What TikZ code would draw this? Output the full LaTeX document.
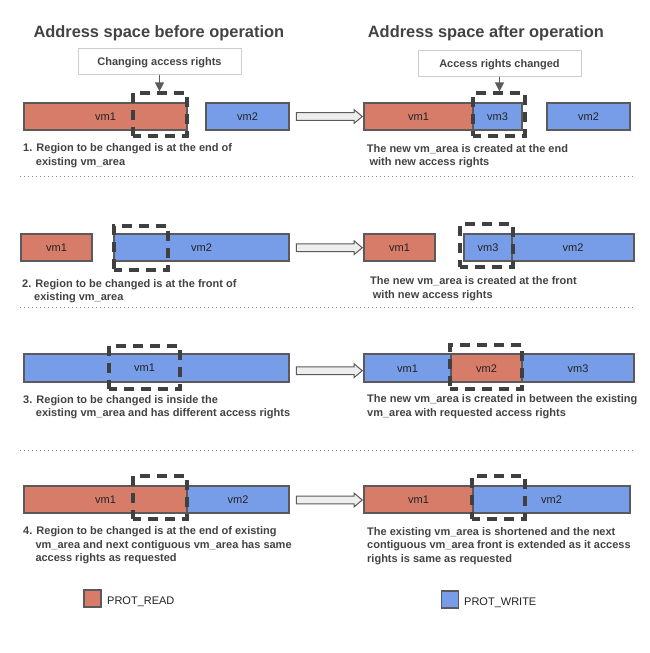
\documentclass[tikz,border=0pt]{standalone}
\usepackage{fontspec}
\setmainfont{Liberation Sans}
\usetikzlibrary{arrows.meta,shapes.arrows}
\definecolor{vmred}{HTML}{D87C6A}
\definecolor{vmblue}{HTML}{789DE8}
\definecolor{bord}{HTML}{5A5A5A}
\definecolor{dashc}{HTML}{404040}
\definecolor{captxt}{HTML}{434343}
\definecolor{labtxt}{HTML}{222222}
\definecolor{boxbord}{HTML}{CCCCCC}
\definecolor{hollowc}{HTML}{EEEEEE}
\definecolor{dotc}{HTML}{8A8A8A}
\begin{document}
\begin{tikzpicture}[x=1pt,y=-1pt,
 vm/.style={draw=bord, line width=1.6pt, inner sep=0pt, outer sep=0pt, text height=8pt, text depth=0pt, font=\fontsize{11}{13}\selectfont, text=labtxt},
 redbox/.style={vm, fill=vmred},
 bluebox/.style={vm, fill=vmblue},
 selbox/.style={draw=dashc, line width=3.2pt, dash pattern=on 10pt off 7pt, dash phase=2pt, inner sep=0pt, text height=8pt, text depth=0pt, font=\fontsize{11}{13}\selectfont, text=labtxt},
 notebox/.style={draw=boxbord, line width=1pt, fill=white, inner sep=0pt, minimum width=163pt, minimum height=26pt, text height=8pt, text depth=0pt, font=\fontsize{11}{13}\selectfont\bfseries, text=captxt},
 conn/.style={draw=bord, line width=1.3pt, -{Triangle[length=9pt,width=9pt]}},
 capt/.style={anchor=base west, inner sep=0pt, font=\fontsize{11}{13}\selectfont\bfseries, text=captxt},
 ttl/.style={anchor=base west, inner sep=0pt, font=\fontsize{16.4}{20}\selectfont\bfseries, text=captxt},
 hollowarrow/.style={single arrow, draw=bord, line width=1pt, fill=hollowc, inner sep=3.3pt, minimum height=66pt, single arrow head extend=3pt, single arrow tip angle=80, shape border rotate=0},
 sepline/.style={draw=dotc, line width=1pt, dash pattern=on 1pt off 3pt},
 legsq/.style={draw=bord, line width=1.6pt, minimum size=17pt, inner sep=0pt},
 legtxt/.style={anchor=base west, inner sep=0pt, font=\fontsize{11}{13}\selectfont, text=labtxt}
]
\fill[white] (0,0) rectangle (649,653);
\useasboundingbox (0,0) rectangle (649,653);

% titles
\node[ttl] (t1) at (33.3,37.7) {Address space before operation};
\node[ttl] (t2) at (367.7,37.7) {Address space after operation};

% ---------------- Row 1
\node[notebox] (cb1) at (159.5,61) {Changing access rights};
\node[redbox, minimum width=163pt, minimum height=27pt] (r1a) at (105.5,116.5) {vm1};
\node[bluebox, minimum width=83pt, minimum height=27pt] (r1b) at (247.5,116.5) {vm2};
\node[selbox, minimum width=54pt, minimum height=43pt] (r1s) at (160,114.5) {};
\draw[conn] (cb1.south) -- (cb1.south |- r1s.north);

\node[hollowarrow] (h1) at (327,116.5) {};

\node[notebox] (cb2) at (499.5,63) {Access rights changed};
\node[redbox, minimum width=109pt, minimum height=27pt] (q1a) at (418.5,116.5) {vm1};
\node[bluebox, minimum width=49pt, minimum height=27pt] (q1c) at (497.5,116.5) {vm3};
\node[bluebox, minimum width=83pt, minimum height=27pt] (q1b) at (588.5,116.5) {vm2};
\node[selbox, minimum width=52pt, minimum height=43pt] (q1s) at (499,114.5) {};
\draw[conn] (cb2.south) -- (cb2.south |- q1s.north);

\node[capt] (c1a) at (23,151.5) {1. Region to be changed is at the end of};
\node[capt] (c1b) at (35.7,165) {existing vm\_area};
\node[capt] (d1a) at (366.7,152) {The new vm\_area is created at the end};
\node[capt] (d1b) at (369.3,165.5) {with new access rights};

\draw[sepline] (20,176.5) -- (635,176.5);

% ---------------- Row 2
\node[redbox, minimum width=71pt, minimum height=27pt] (r2a) at (56.5,247.5) {vm1};
\node[bluebox, minimum width=175pt, minimum height=27pt] (r2b) at (201.5,247.5) {vm2};
\node[selbox, minimum width=54pt, minimum height=44pt] (r2s) at (141,248) {};

\node[hollowarrow] (h2) at (327,247.7) {};

\node[redbox, minimum width=71pt, minimum height=27pt] (q2a) at (399.5,247.5) {vm1};
\node[bluebox, minimum width=48pt, minimum height=27pt] (q2c) at (488,247.5) {vm3};
\node[bluebox, minimum width=122pt, minimum height=27pt] (q2b) at (573,247.5) {vm2};
\node[selbox, minimum width=53pt, minimum height=43pt] (q2s) at (486.5,245.5) {};

\node[capt] (c2a) at (22,287) {2. Region to be changed is at the front of};
\node[capt] (c2b) at (34,300.5) {existing vm\_area};
\node[capt] (d2a) at (370,284.5) {The new vm\_area is created at the front};
\node[capt] (d2b) at (372.7,298) {with new access rights};

\draw[sepline] (20,307.5) -- (635,307.5);

% ---------------- Row 3
\node[bluebox, minimum width=265pt, minimum height=28pt] (r3a) at (156.5,368) {};
\node[selbox, minimum width=71pt, minimum height=43pt] (r3s) at (144.5,367.5) {vm1};

\node[hollowarrow] (h3) at (327,370.7) {};

\node[bluebox, minimum width=87pt, minimum height=28pt] (q3a) at (407.5,368) {vm1};
\node[redbox, minimum width=71pt, minimum height=28pt] (q3b) at (486.5,368) {vm2};
\node[bluebox, minimum width=112pt, minimum height=28pt] (q3c) at (578,368) {vm3};
\node[selbox, minimum width=72pt, minimum height=44pt] (q3s) at (486,367) {};

\node[capt] (c3a) at (23,403) {3. Region to be changed is inside the};
\node[capt] (c3b) at (35.7,416.5) {existing vm\_area and has different access rights};
\node[capt] (d3a) at (367,402.5) {The new vm\_area is created in between the existing};
\node[capt] (d3b) at (367,416) {vm\_area with requested access rights};

\draw[sepline] (20,450) -- (635,450);

% ---------------- Row 4
\node[redbox, minimum width=163pt, minimum height=27pt] (r4a) at (105.5,499.5) {vm1};
\node[bluebox, minimum width=102pt, minimum height=27pt] (r4b) at (238,499.5) {vm2};
\node[selbox, minimum width=54pt, minimum height=43pt] (r4s) at (160,497.5) {};

\node[hollowarrow] (h4) at (327,500) {};

\node[redbox, minimum width=109pt, minimum height=27pt] (q4a) at (418.5,499.5) {vm1};
\node[bluebox, minimum width=157pt, minimum height=27pt] (q4b) at (551.5,499.5) {vm2};
\node[selbox, minimum width=53pt, minimum height=43pt] (q4s) at (498.5,497.5) {};

\node[capt] (c4a) at (23,534.5) {4. Region to be changed is at the end of existing};
\node[capt] (c4b) at (35.3,548) {vm\_area and next contiguous vm\_area has same};
\node[capt] (c4c) at (35.3,561.5) {access rights as requested};
\node[capt] (d4a) at (367,535) {The existing vm\_area is shortened and the next};
\node[capt] (d4b) at (367,548.5) {contiguous vm\_area front is extended as it access};
\node[capt] (d4c) at (367,562) {rights is same as requested};

% ---------------- Legend
\node[legsq, fill=vmred] (lr) at (92.5,598.5) {};
\node[legtxt] (lrt) at (107,604) {PROT\_READ};
\node[legsq, fill=vmblue] (lb) at (450,599.5) {};
\node[legtxt] (lbt) at (464,605) {PROT\_WRITE};
\end{tikzpicture}
\end{document}
